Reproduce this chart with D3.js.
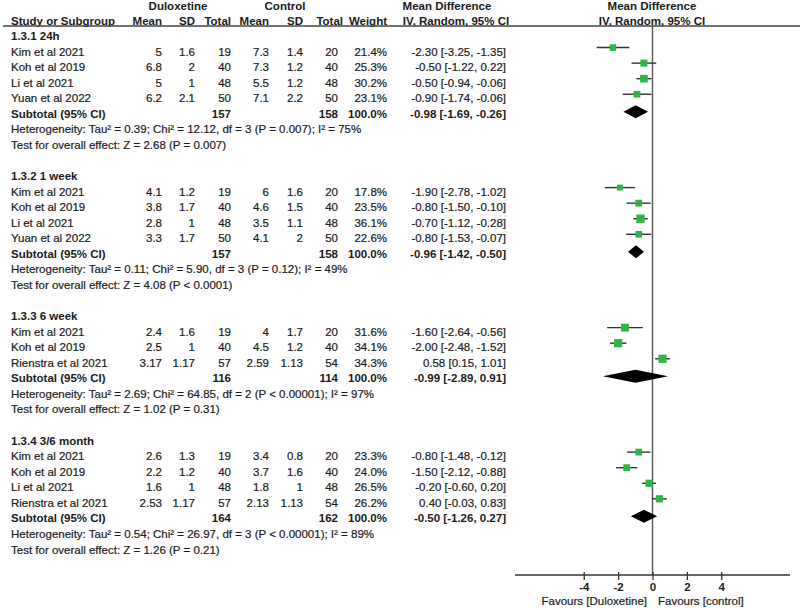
<!DOCTYPE html>
<html lang="en">
<head>
<meta charset="utf-8">
<title>Forest plot</title>
<script src="https://d3js.org/d3.v7.min.js"></script>
<style>
  body { margin: 0; background: #fff; }
  text { font-family: "Liberation Sans", Arial, sans-serif; font-size: 11.5px; fill: #1a1a1a;
         stroke: #1a1a1a; stroke-width: 0.2px; }
  .b { font-weight: bold; stroke-width: 0; }
</style>
</head>
<body>
<svg width="800" height="610"></svg>
<script>
// data
const groupLabels = ["1.3.1 24h", "1.3.2 1 week", "1.3.3 6 week", "1.3.4 3/6 month"];
const studyNames = [
  ["Kim et al 2021", "Koh et al 2019", "Li et al 2021", "Yuan et al 2022"],
  ["Kim et al 2021", "Koh et al 2019", "Li et al 2021", "Yuan et al 2022"],
  ["Kim et al 2021", "Koh et al 2019", "Rienstra et al 2021"],
  ["Kim et al 2021", "Koh et al 2019", "Li et al 2021", "Rienstra et al 2021"]
];
const duloxMean = [[5, 6.8, 5, 6.2], [4.1, 3.8, 2.8, 3.3], [2.4, 2.5, 3.17], [2.6, 2.2, 1.6, 2.53]];
const duloxSD   = [[1.6, 2, 1, 2.1], [1.2, 1.7, 1, 1.7], [1.6, 1, 1.17], [1.3, 1.2, 1, 1.17]];
const duloxN    = [[19, 40, 48, 50], [19, 40, 48, 50], [19, 40, 57], [19, 40, 48, 57]];
const ctrlMean  = [[7.3, 7.3, 5.5, 7.1], [6, 4.6, 3.5, 4.1], [4, 4.5, 2.59], [3.4, 3.7, 1.8, 2.13]];
const ctrlSD    = [[1.4, 1.2, 1.2, 2.2], [1.6, 1.5, 1.1, 2], [1.7, 1.2, 1.13], [0.8, 1.6, 1, 1.13]];
const ctrlN     = [[20, 40, 48, 50], [20, 40, 48, 50], [20, 40, 54], [20, 40, 48, 54]];
const weights   = [[21.4, 25.3, 30.2, 23.1], [17.8, 23.5, 36.1, 22.6], [31.6, 34.1, 34.3], [23.3, 24.0, 26.5, 26.2]];
const md        = [[-2.30, -0.50, -0.50, -0.90], [-1.90, -0.80, -0.70, -0.80], [-1.60, -2.00, 0.58], [-0.80, -1.50, -0.20, 0.40]];
const mdLow     = [[-3.25, -1.22, -0.94, -1.74], [-2.78, -1.50, -1.12, -1.53], [-2.64, -2.48, 0.15], [-1.48, -2.12, -0.60, -0.03]];
const mdHigh    = [[-1.35, 0.22, -0.06, -0.06], [-1.02, -0.10, -0.28, -0.07], [-0.56, -1.52, 1.01], [-0.12, -0.88, 0.20, 0.83]];
const subDuloxN = [157, 157, 116, 164];
const subCtrlN  = [158, 158, 114, 162];
const subMD     = [-0.98, -0.96, -0.99, -0.50];
const subLow    = [-1.69, -1.42, -2.89, -1.26];
const subHigh   = [-0.26, -0.50, 0.91, 0.27];
const heterogeneity = [
  "Heterogeneity: Tau² = 0.39; Chi² = 12.12, df = 3 (P = 0.007); I² = 75%",
  "Heterogeneity: Tau² = 0.11; Chi² = 5.90, df = 3 (P = 0.12); I² = 49%",
  "Heterogeneity: Tau² = 2.69; Chi² = 64.85, df = 2 (P < 0.00001); I² = 97%",
  "Heterogeneity: Tau² = 0.54; Chi² = 26.97, df = 3 (P < 0.00001); I² = 89%"
];
const overallEffect = [
  "Test for overall effect: Z = 2.68 (P = 0.007)",
  "Test for overall effect: Z = 4.08 (P < 0.0001)",
  "Test for overall effect: Z = 1.02 (P = 0.31)",
  "Test for overall effect: Z = 1.26 (P = 0.21)"
];
const axisTicks = [-4, -2, 0, 2, 4];

const svg = d3.select("svg");
const x = d3.scaleLinear().domain([-8, 8]).range([515, 790]);
const rowY = i => 36 + i * 15.56;
// plain hyphen instead of the unicode minus d3 uses
const f2 = v => d3.format(".2f")(v).replace("\u2212", "-");
const fmtMD = (m, l, h) => `${f2(m)} [${f2(l)}, ${f2(h)}]`;

function txt(px, py, s, anchor, cls) {
  svg.append("text")
    .attr("x", px).attr("y", py).attr("dy", "0.35em")
    .attr("text-anchor", anchor || "start")
    .attr("class", cls || null)
    .text(s);
}

// column headers
txt(178, 6, "Duloxetine", "middle", "b");
txt(285, 6, "Control", "middle", "b");
txt(447, 6, "Mean Difference", "middle", "b");
txt(652, 6, "Mean Difference", "middle", "b");
txt(11, 21, "Study or Subgroup", "start", "b");
txt(162, 21, "Mean", "end", "b");
txt(195, 21, "SD", "end", "b");
txt(231, 21, "Total", "end", "b");
txt(269, 21, "Mean", "end", "b");
txt(303, 21, "SD", "end", "b");
txt(343, 21, "Total", "end", "b");
txt(387, 21, "Weight", "end", "b");
txt(456, 21, "IV, Random, 95% CI", "middle", "b");
txt(652, 21, "IV, Random, 95% CI", "middle", "b");

svg.append("line")
  .attr("x1", 3).attr("x2", 800).attr("y1", 26).attr("y2", 26)
  .attr("stroke", "#444").attr("stroke-width", 1.3);

// null line
svg.append("line")
  .attr("x1", x(0)).attr("x2", x(0)).attr("y1", 26).attr("y2", 575)
  .attr("stroke", "#555").attr("stroke-width", 1.4);

let row = 0;
groupLabels.forEach((g, gi) => {
  txt(11, rowY(row), g, "start", "b");
  row++;
  studyNames[gi].forEach((name, si) => {
    const y = rowY(row);
    txt(11, y, name);
    txt(162, y, String(duloxMean[gi][si]), "end");
    txt(195, y, String(duloxSD[gi][si]), "end");
    txt(231, y, String(duloxN[gi][si]), "end");
    txt(269, y, String(ctrlMean[gi][si]), "end");
    txt(303, y, String(ctrlSD[gi][si]), "end");
    txt(338, y, String(ctrlN[gi][si]), "end");
    txt(387, y, d3.format(".1f")(weights[gi][si]) + "%", "end");
    txt(506, y, fmtMD(md[gi][si], mdLow[gi][si], mdHigh[gi][si]), "end");

    const my = y - 4;
    svg.append("line")
      .attr("x1", x(mdLow[gi][si])).attr("x2", x(mdHigh[gi][si]))
      .attr("y1", my).attr("y2", my)
      .attr("stroke", "#333").attr("stroke-width", 1.4);
    const s = Math.sqrt(weights[gi][si]) * 1.4;
    svg.append("rect")
      .attr("x", x(md[gi][si]) - s / 2).attr("y", my - s / 2)
      .attr("width", s).attr("height", s)
      .attr("fill", "#2fb44a");
    row++;
  });
  // subtotal
  const y = rowY(row);
  txt(11, y, "Subtotal (95% CI)", "start", "b");
  txt(231, y, String(subDuloxN[gi]), "end", "b");
  txt(338, y, String(subCtrlN[gi]), "end", "b");
  txt(387, y, "100.0%", "end", "b");
  txt(506, y, fmtMD(subMD[gi], subLow[gi], subHigh[gi]), "end", "b");
  const dy = y - 2;
  svg.append("path")
    .attr("d", `M${x(subLow[gi])},${dy} L${x(subMD[gi])},${dy - 6.5} L${x(subHigh[gi])},${dy} L${x(subMD[gi])},${dy + 6.5} Z`)
    .attr("fill", "#000");
  row++;
  txt(11, rowY(row), heterogeneity[gi]);
  row++;
  txt(11, rowY(row), overallEffect[gi]);
  row += 2;
});

// axis
const axis = svg.append("g")
  .attr("transform", "translate(0,575)")
  .call(d3.axisBottom(x).tickValues(axisTicks).tickSize(5).tickPadding(3)
    .tickFormat(d => String(d)));
axis.select(".domain").attr("stroke", "#333").attr("stroke-width", 1.3).attr("d", `M${x(-8)},0H${x(8)}`);
axis.selectAll(".tick line").attr("stroke", "#333").attr("stroke-width", 1.3).attr("y1", -3);
axis.selectAll(".tick text").style("font-size", "11.5px").attr("class", "b").attr("fill", "#1a1a1a");

txt(647, 601, "Favours [Duloxetine]", "end");
txt(658, 601, "Favours [control]", "start");
</script>
</body>
</html>
